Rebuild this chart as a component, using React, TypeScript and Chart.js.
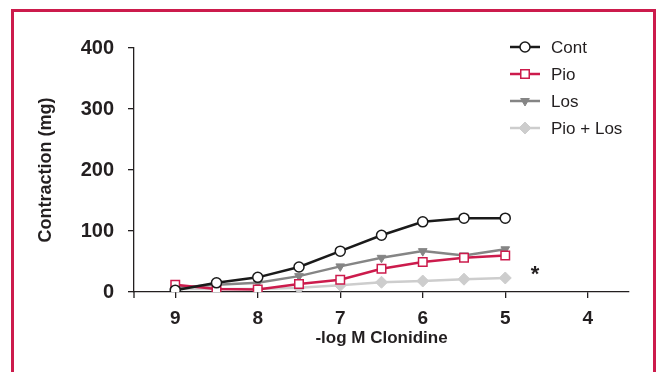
import React, { useEffect, useRef } from "react";
import { Chart, registerables } from "chart.js";

Chart.register(...registerables);

const doses = [9, 8.5, 8, 7.5, 7, 6.5, 6, 5.5, 5];
const xTicks = [9, 8, 7, 6, 5, 4];
const yTicks = [0, 100, 200, 300, 400];
const contValues = [3, 15, 24, 41, 67, 93, 115, 121, 121];
const pioValues = [12, 5, 4, 13, 20, 38, 49, 56, 60];
const losValues = [7, 12, 15, 26, 42, 56, 67, 60, 70];
const pioLosValues = [5, 5, 5, 7, 11, 16, 18, 21, 23];
const seriesNames = ["Cont", "Pio", "Los", "Pio + Los"];
const asteriskAt = { x: 4.64, y: 28 };

const FONT = "'Liberation Sans', Arial, Helvetica, sans-serif";
const INK = "#231f20";
const RED = "#cc1b4c";

const toPts = (vals: number[]) => doses.map((d, i) => ({ x: d, y: vals[i] }));

function drawMarker(ctx: CanvasRenderingContext2D, style: string, rotation: number, r: number, x: number, y: number) {
  ctx.beginPath();
  if (style === "circle") {
    ctx.arc(x, y, r, 0, Math.PI * 2);
  } else if (style === "rect") {
    const s = Math.SQRT1_2 * r;
    ctx.rect(x - s, y - s, 2 * s, 2 * s);
  } else if (style === "rectRot") {
    ctx.moveTo(x, y - r);
    ctx.lineTo(x + r, y);
    ctx.lineTo(x, y + r);
    ctx.lineTo(x - r, y);
    ctx.closePath();
  } else if (style === "triangle") {
    const dir = rotation === 180 ? -1 : 1;
    ctx.moveTo(x, y - dir * r);
    ctx.lineTo(x + r * 0.866, y + dir * r * 0.5);
    ctx.lineTo(x - r * 0.866, y + dir * r * 0.5);
    ctx.closePath();
  }
  ctx.fill();
  ctx.stroke();
}

const legendPlugin = {
  id: "customLegend",
  afterDraw(chart: any) {
    const { ctx, chartArea } = chart;
    const lineX0 = chartArea.right - 119;
    const lineX1 = lineX0 + 30;
    const textX = lineX1 + 11;
    const y0 = chartArea.top - 1;
    const step = 27;
    ctx.save();
    chart.data.datasets.forEach((ds: any, i: number) => {
      const y = y0 + i * step;
      ctx.strokeStyle = ds.borderColor;
      ctx.lineWidth = ds.borderWidth;
      ctx.beginPath();
      ctx.moveTo(lineX0, y);
      ctx.lineTo(lineX1, y);
      ctx.stroke();
      ctx.fillStyle = ds.pointBackgroundColor;
      ctx.strokeStyle = ds.pointBorderColor;
      ctx.lineWidth = ds.pointBorderWidth;
      drawMarker(ctx, ds.pointStyle, ds.pointRotation || 0, ds.pointRadius, (lineX0 + lineX1) / 2, y);
      ctx.fillStyle = INK;
      ctx.font = `17px ${FONT}`;
      ctx.textBaseline = "middle";
      ctx.textAlign = "left";
      ctx.fillText(ds.label, textX, y + 1);
    });
    const xs = chart.scales.x;
    const ys = chart.scales.y;
    ctx.fillStyle = INK;
    ctx.font = `bold 22px ${FONT}`;
    ctx.textAlign = "center";
    ctx.textBaseline = "middle";
    ctx.fillText("*", xs.getPixelForValue(asteriskAt.x), ys.getPixelForValue(asteriskAt.y));
    ctx.strokeStyle = INK;
    ctx.lineWidth = 1.3;
    ctx.beginPath();
    ctx.moveTo(chartArea.left, chartArea.bottom);
    ctx.lineTo(chartArea.left, chartArea.bottom + 6);
    ctx.stroke();
    ctx.restore();
  },
};

export default function App() {
  const ref = useRef<HTMLCanvasElement | null>(null);
  useEffect(() => {
    if (!ref.current) return;
    const chart = new Chart(ref.current, {
      type: "line",
      data: {
        datasets: [
          {
            label: seriesNames[0],
            data: toPts(contValues),
            borderColor: "#1a1a1a",
            borderWidth: 2.5,
            pointStyle: "circle",
            pointRadius: 5,
            pointBackgroundColor: "#ffffff",
            pointBorderColor: "#1a1a1a",
            pointBorderWidth: 1.5,
          },
          {
            label: seriesNames[1],
            data: toPts(pioValues),
            borderColor: RED,
            borderWidth: 2.5,
            pointStyle: "rect",
            pointRadius: 6,
            pointBackgroundColor: "#ffffff",
            pointBorderColor: RED,
            pointBorderWidth: 1.5,
          },
          {
            label: seriesNames[2],
            data: toPts(losValues),
            borderColor: "#858585",
            borderWidth: 2.5,
            pointStyle: "triangle",
            pointRotation: 180,
            pointRadius: 5,
            pointBackgroundColor: "#858585",
            pointBorderColor: "#858585",
            pointBorderWidth: 1,
          },
          {
            label: seriesNames[3],
            data: toPts(pioLosValues),
            borderColor: "#cdcdcd",
            borderWidth: 2.5,
            pointStyle: "rectRot",
            pointRadius: 6,
            pointBackgroundColor: "#cdcdcd",
            pointBorderColor: "#cdcdcd",
            pointBorderWidth: 1,
          },
        ] as any,
      },
      options: {
        animation: false,
        responsive: false,
        devicePixelRatio: 1,
        layout: { padding: { top: 48, right: 28, left: 0, bottom: 0 } },
        elements: { line: { tension: 0 } },
        plugins: { legend: { display: false }, tooltip: { enabled: false } },
        scales: {
          x: {
            type: "linear",
            min: 3.5,
            max: 9.5,
            reverse: true,
            afterBuildTicks: (s: any) => {
              s.ticks = xTicks.map((v) => ({ value: v }));
            },
            afterFit: (s: any) => {
              s.height = 80;
            },
            grid: { drawOnChartArea: false, drawTicks: true, tickLength: 6, color: INK, lineWidth: 1.3 },
            border: { display: true, color: INK, width: 1.3 },
            ticks: {
              color: INK,
              font: { family: FONT, size: 19, weight: "bold" },
              padding: 9,
              callback: (v: any) => String(v),
            },
            title: {
              display: true,
              text: "-log M Clonidine",
              color: INK,
              font: { family: FONT, size: 17, weight: "bold" },
              padding: { top: 0, bottom: 23 },
            },
          },
          y: {
            type: "linear",
            min: 0,
            max: 400,
            afterBuildTicks: (s: any) => {
              s.ticks = yTicks.map((v) => ({ value: v }));
            },
            afterFit: (s: any) => {
              s.width = 134;
            },
            grid: { drawOnChartArea: false, drawTicks: true, tickLength: 6, color: INK, lineWidth: 1.3 },
            border: { display: true, color: INK, width: 1.3 },
            ticks: {
              color: INK,
              font: { family: FONT, size: 20, weight: "bold" },
              padding: 14,
            },
            title: {
              display: true,
              text: "Contraction (mg)",
              color: INK,
              font: { family: FONT, size: 18, weight: "bold" },
              padding: { top: 35, bottom: 0 },
            },
          },
        },
      } as any,
      plugins: [legendPlugin],
    });
    return () => chart.destroy();
  }, []);

  return (
    <div style={{ position: "fixed", left: 0, top: 0, width: 657, height: 372, background: "#fff", overflow: "hidden" }}>
      <canvas ref={ref} width={657} height={372} style={{ position: "absolute", left: 0, top: 0, width: 657, height: 372 }} />
      <div
        style={{
          position: "absolute",
          left: 11,
          top: 9,
          width: 645,
          height: 420,
          border: `3px solid ${RED}`,
          boxSizing: "border-box",
          pointerEvents: "none",
        }}
      />
    </div>
  );
}
